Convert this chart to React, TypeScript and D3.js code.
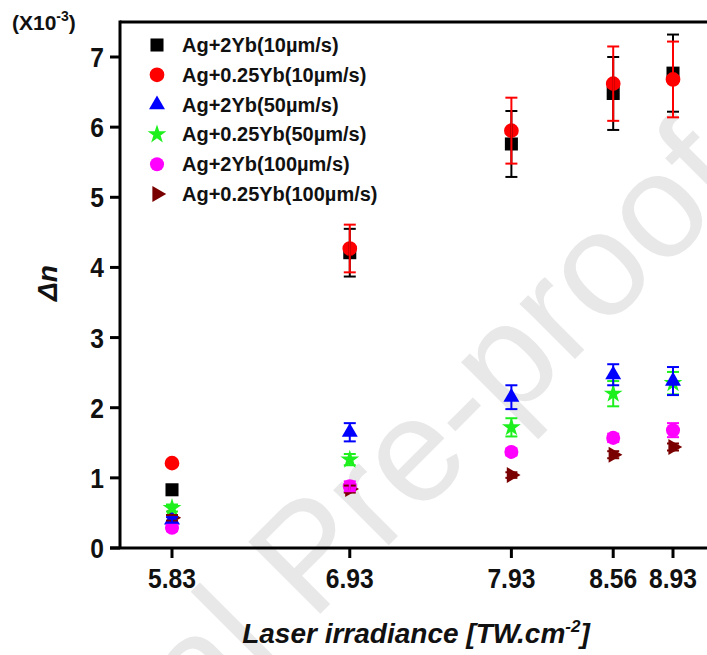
import React from 'react';
import * as d3 from 'd3';

// irradiance values (TW.cm-2) where samples were measured
const irradiance = [5.83, 6.93, 7.93, 8.56, 8.93];
const yTicks = [0, 1, 2, 3, 4, 5, 6, 7];

// delta n (x10^-3) for each sample, with error bars
const ag2yb10 = [0.83, 4.21, 5.76, 6.48, 6.77];
const ag2yb10Err = [0.03, 0.34, 0.47, 0.52, 0.55];
const ag025yb10 = [1.21, 4.27, 5.95, 6.62, 6.68];
const ag025yb10Err = [0.03, 0.34, 0.47, 0.53, 0.54];
const ag2yb50 = [0.4, 1.65, 2.15, 2.47, 2.38];
const ag2yb50Err = [0.04, 0.13, 0.17, 0.15, 0.2];
const ag025yb50 = [0.57, 1.26, 1.72, 2.2, 2.35];
const ag025yb50Err = [0.05, 0.08, 0.13, 0.18, 0.16];
const ag2yb100 = [0.29, 0.88, 1.37, 1.57, 1.68];
const ag2yb100Err = [0.05, 0.07, 0.05, 0.06, 0.1];
const ag025yb100 = [0.43, 0.84, 1.04, 1.33, 1.44];
const ag025yb100Err = [0.04, 0.05, 0.04, 0.05, 0.05];

const seriesNames = [
  'Ag+2Yb(10µm/s)',
  'Ag+0.25Yb(10µm/s)',
  'Ag+2Yb(50µm/s)',
  'Ag+0.25Yb(50µm/s)',
  'Ag+2Yb(100µm/s)',
  'Ag+0.25Yb(100µm/s)',
];

const FONT = '"Liberation Sans", Arial, sans-serif';

type Series = {
  name: string;
  values: number[];
  errors: number[];
  color: string;
  shape: d3.SymbolType;
  size: number;
  rotate?: number;
};

const series: Series[] = [
  { name: seriesNames[0], values: ag2yb10, errors: ag2yb10Err, color: '#000000', shape: d3.symbolSquare, size: 170 },
  { name: seriesNames[1], values: ag025yb10, errors: ag025yb10Err, color: '#ff0000', shape: d3.symbolCircle, size: 170 },
  { name: seriesNames[2], values: ag2yb50, errors: ag2yb50Err, color: '#0000ff', shape: d3.symbolTriangle, size: 110 },
  { name: seriesNames[3], values: ag025yb50, errors: ag025yb50Err, color: '#1ef01e', shape: d3.symbolStar, size: 110 },
  { name: seriesNames[4], values: ag2yb100, errors: ag2yb100Err, color: '#ff00ff', shape: d3.symbolCircle, size: 155 },
  { name: seriesNames[5], values: ag025yb100, errors: ag025yb100Err, color: '#7a0000', shape: d3.symbolTriangle, size: 110, rotate: 90 },
];

const App = () => {
  const width = 707;
  const height = 655;

  const x = d3.scaleLinear().domain([5.83, 8.93]).range([172, 673]);
  const y = d3.scaleLinear().domain([0, 7]).range([548, 57]);

  const axisLeft = 120;
  const axisTop = 22;
  const axisBottom = y(0);

  const symbolPath = (s: Series) => d3.symbol(s.shape, s.size)() || '';

  // draw lower series first so the 10µm/s series sit on top
  const drawOrder = [5, 4, 3, 2, 0, 1];

  return (
    <svg width={width} height={height} style={{ position: 'absolute', left: 0, top: 0, background: '#fff' }}>
      {/* journal watermark */}
      <text
        transform="translate(748,186) rotate(-45)"
        textAnchor="end"
        fontFamily={FONT}
        fontSize={148}
        fill="#e8e8e8"
      >
        Journal Pre-proof
      </text>

      {/* frame */}
      <line x1={axisLeft} x2={width} y1={axisTop} y2={axisTop} stroke="#000" strokeWidth={3} />
      <line x1={axisLeft} x2={axisLeft} y1={axisTop - 1.5} y2={axisBottom} stroke="#000" strokeWidth={3} />
      <line x1={110} x2={width} y1={axisBottom} y2={axisBottom} stroke="#000" strokeWidth={3} />

      {/* y ticks */}
      {yTicks.map(t => (
        <g key={'y' + t}>
          <line x1={110} x2={axisLeft} y1={y(t)} y2={y(t)} stroke="#000" strokeWidth={3} />
          <text
            transform={`translate(104,${y(t) + 10}) scale(0.88,1)`}
            textAnchor="end"
            fontFamily={FONT}
            fontWeight="bold"
            fontSize={28}
            fill="#111"
          >
            {t}
          </text>
        </g>
      ))}

      {/* x ticks */}
      {irradiance.map(v => (
        <g key={'x' + v}>
          <line x1={x(v)} x2={x(v)} y1={axisBottom} y2={axisBottom + 10} stroke="#000" strokeWidth={3} />
          <text
            transform={`translate(${x(v)},588) scale(0.88,1)`}
            textAnchor="middle"
            fontFamily={FONT}
            fontWeight="bold"
            fontSize={28}
            fill="#111"
          >
            {v.toFixed(2)}
          </text>
        </g>
      ))}

      {/* markers */}
      {drawOrder.map(i => {
        const s = series[i];
        return (
          <g key={'m' + i}>
            {s.values.map((v, j) => (
              <path
                key={j}
                d={symbolPath(s)}
                fill={s.color}
                transform={`translate(${x(irradiance[j])},${y(v)}) rotate(${s.rotate || 0})`}
              />
            ))}
          </g>
        );
      })}

      {/* error bars */}
      {drawOrder.map(i => {
        const s = series[i];
        return (
          <g key={'e' + i} stroke={s.color} strokeWidth={2}>
            {s.values.map((v, j) => {
              const cx = x(irradiance[j]);
              const top = y(v + s.errors[j]);
              const bot = y(v - s.errors[j]);
              return (
                <g key={j}>
                  <line x1={cx} x2={cx} y1={top} y2={bot} />
                  <line x1={cx - 6} x2={cx + 6} y1={top} y2={top} />
                  <line x1={cx - 6} x2={cx + 6} y1={bot} y2={bot} />
                </g>
              );
            })}
          </g>
        );
      })}

      {/* legend */}
      {series.map((s, i) => {
        const ly = 45 + i * 29.8;
        return (
          <g key={'l' + i}>
            <path d={symbolPath(s)} fill={s.color} transform={`translate(157,${ly}) rotate(${s.rotate || 0})`} />
            <text
              x={182}
              y={ly + 7}
              fontFamily={FONT}
              fontWeight="bold"
              fontSize={20}
              fill="#111"
            >
              {s.name}
            </text>
          </g>
        );
      })}

      {/* exponent note */}
      <text x={12} y={30} fontFamily={FONT} fontWeight="bold" fontSize={21} fill="#111">
        (X10<tspan dy={-9} fontSize={14}>-3</tspan>
        <tspan dy={9}>)</tspan>
      </text>

      {/* axis titles */}
      <text
        transform="translate(57,283) rotate(-90)"
        textAnchor="middle"
        fontFamily={FONT}
        fontWeight="bold"
        fontStyle="italic"
        fontSize={28}
        fill="#111"
      >
        Δn
      </text>
      <text
        x={416}
        y={643}
        textAnchor="middle"
        fontFamily={FONT}
        fontWeight="bold"
        fontStyle="italic"
        fontSize={28}
        fill="#111"
      >
        Laser irradiance [TW.cm<tspan dy={-11} fontSize={17}>-2</tspan>
        <tspan dy={11}>]</tspan>
      </text>
    </svg>
  );
};

export default App;
